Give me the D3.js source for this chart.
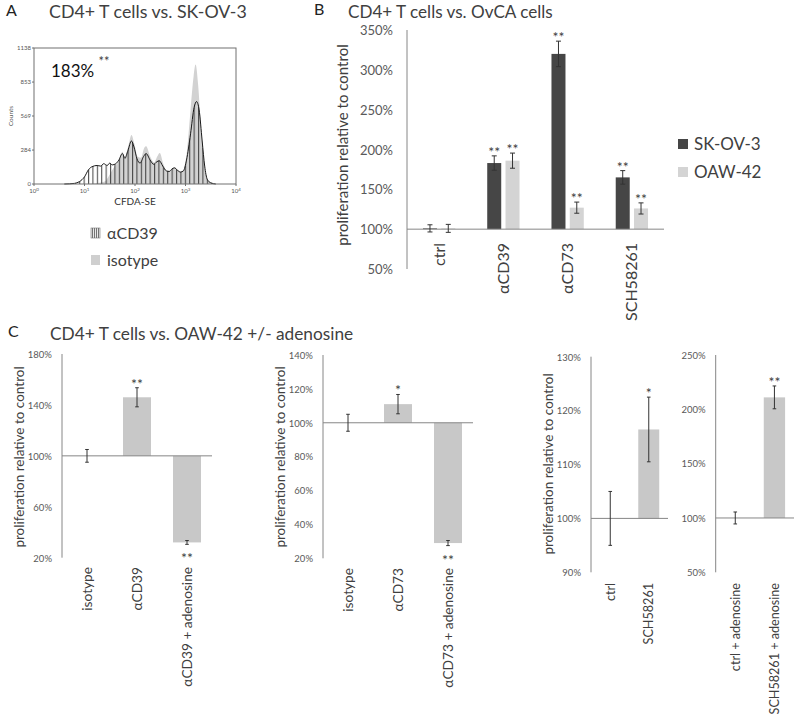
<!DOCTYPE html>
<html>
<head>
<meta charset="utf-8">
<script src="https://cdn.jsdelivr.net/npm/d3@7"></script>
<style>
  body { margin: 0; background: #fff; }
  svg { display: block; font-family: Lato, "Open Sans", sans-serif; }
</style>
</head>
<body>
<div id="figure"></div>
<script>
// Panel A: CFSE histogram (log10 of CFDA-SE intensity vs counts)
//
var cd39Log    = [0.6, 0.8, 0.9, 1.0, 1.08, 1.15, 1.25, 1.32, 1.38, 1.45, 1.5, 1.55, 1.62, 1.68, 1.75, 1.8, 1.86, 1.93, 1.98, 2.04, 2.1, 2.17, 2.22, 2.3, 2.37, 2.43, 2.48, 2.55, 2.62, 2.68, 2.73, 2.78, 2.84, 2.9, 2.96, 3.02, 3.1, 3.17, 3.22, 3.27, 3.33, 3.38, 3.43, 3.5, 3.6];
var cd39Counts = [0, 5, 20, 60, 120, 145, 155, 150, 170, 155, 175, 160, 170, 200, 255, 215, 280, 360, 310, 210, 175, 230, 255, 200, 165, 185, 195, 150, 110, 105, 125, 135, 115, 100, 110, 200, 420, 640, 690, 620, 360, 150, 40, 10, 0];
var isoLog     = [0.9, 1.2, 1.4, 1.5, 1.6, 1.68, 1.75, 1.8, 1.87, 1.93, 1.99, 2.05, 2.12, 2.18, 2.22, 2.3, 2.38, 2.44, 2.49, 2.56, 2.63, 2.69, 2.74, 2.79, 2.85, 2.91, 2.97, 3.03, 3.1, 3.16, 3.2, 3.25, 3.31, 3.37, 3.43, 3.5, 3.6];
var isoCounts  = [0, 5, 20, 80, 150, 190, 270, 230, 320, 410, 330, 230, 220, 300, 315, 230, 180, 230, 260, 170, 110, 110, 130, 140, 115, 100, 130, 280, 620, 900, 1000, 830, 450, 180, 50, 10, 0];
var histYTicks = [0, 284, 569, 853, 1138];
var histXTicks = [1, 10, 100, 1000, 10000];
var histLegend = ["αCD39", "isotype"];

// Panel B: grouped bars
//
var bCategories = ["ctrl", "αCD39", "αCD73", "SCH58261"];
var bSeries     = ["SK-OV-3", "OAW-42"];
var bSkov3      = [101, 183, 320, 165];
var bSkov3Err   = [4.5, 9, 16, 8.5];
var bSkov3Sig   = ["", "**", "**", "**"];
var bOaw42      = [101, 186, 127, 126];
var bOaw42Err   = [5, 9.5, 7, 7];
var bOaw42Sig   = ["", "**", "**", "**"];
var bTicks      = [50, 100, 150, 200, 250, 300, 350];

// Panel C: four small bar charts
//
var c1Categories = ["isotype", "αCD39", "αCD39 + adenosine"];
var c1Values     = [100, 146, 32];
var c1Err        = [5, 7.5, 1.5];
var c1Sig        = ["", "**", "**"];
var c1Ticks      = [20, 60, 100, 140, 180];

var c2Categories = ["isotype", "αCD73", "αCD73 + adenosine"];
var c2Values     = [100, 111, 29];
var c2Err        = [5, 5.7, 1.5];
var c2Sig        = ["", "*", "**"];
var c2Ticks      = [20, 40, 60, 80, 100, 120, 140];

var c3Categories = ["ctrl", "SCH58261"];
var c3Values     = [100, 116.5];
var c3Err        = [5, 6];
var c3Sig        = ["", "*"];
var c3Ticks      = [90, 100, 110, 120, 130];

var c4Categories = ["ctrl + adenosine", "SCH58261 + adenosine"];
var c4Values     = [100, 211];
var c4Err        = [5.5, 10.5];
var c4Sig        = ["", "**"];
var c4Ticks      = [50, 100, 150, 200, 250];

// Colours
//
var textDark  = '#404040';
var textTick  = '#595959';
var axisColor = '#868686';
var darkBar   = '#464646';
var lightBar  = '#d4d4d4';
var cBar      = '#c8c8c8';
var errColor  = '#333333';

var svg = d3.select("#figure").append("svg")
    .attr('width', 800)
    .attr('height', 719)
    .attr('viewBox', '0 0 800 719');

var defs = svg.append("defs");

// Panel letters and titles
//
function panelTitle(letter, lx, ly, title, tx, ty, size) {
    svg.append("text")
        .attr('x', lx).attr('y', ly)
        .style("font-size", "16px")
        .style("fill", '#222')
        .text(letter);
    svg.append("text")
        .attr('x', tx).attr('y', ty)
        .style("font-size", size + "px")
        .style("fill", textDark)
        .text(title);
}

panelTitle("A", 6, 16, "CD4+ T cells vs. SK-OV-3", 49, 18, 17.8);
panelTitle("B", 314, 15, "CD4+ T cells vs. OvCA cells", 348, 18, 17.1);
panelTitle("C", 8, 337, "CD4+ T cells vs. OAW-42 +/- adenosine", 50, 340, 17.3);

// Significance stars
//
function stars(g, x, y, s, size) {
    if(!s) { return; }
    g.append("text")
        .attr('x', x).attr('y', y)
        .style("text-anchor", "middle")
        .style("font-size", size + "px")
        .style("fill", textDark)
        .text(s);
}

// Error bar with caps
//
function errorBar(g, x, yHi, yLo, cap) {
    g.append("line").attr('x1', x).attr('x2', x).attr('y1', yHi).attr('y2', yLo)
        .attr('stroke', errColor).attr('stroke-width', 1);
    g.append("line").attr('x1', x - cap).attr('x2', x + cap).attr('y1', yHi).attr('y2', yHi)
        .attr('stroke', errColor).attr('stroke-width', 1);
    g.append("line").attr('x1', x - cap).attr('x2', x + cap).attr('y1', yLo).attr('y2', yLo)
        .attr('stroke', errColor).attr('stroke-width', 1);
}

// ---------------------------------------------------------------------------
// Panel A
//
function plotHistogram() {
    let x0 = 34, x1 = 236, y0 = 48, y1 = 184;
    let g = svg.append("g").attr("class", "histogram");

    let x = d3.scaleLog().domain([1, 10000]).range([x0, x1]);
    let y = d3.scaleLinear().domain([0, 1138]).range([y1, y0]);

    // hatch pattern for aCD39
    //
    let pat = defs.append("pattern")
        .attr('id', 'hatch')
        .attr('patternUnits', 'userSpaceOnUse')
        .attr('width', 4.4)
        .attr('height', 10);
    pat.append("line")
        .attr('x1', 0.6).attr('x2', 0.6).attr('y1', 0).attr('y2', 10)
        .attr('stroke', '#2a2a2a').attr('stroke-width', 0.9);

    let iso = isoLog.map((d, i) => ({ v: Math.pow(10, d), c: isoCounts[i] }));
    let cd  = cd39Log.map((d, i) => ({ v: Math.pow(10, d), c: cd39Counts[i] }));

    let area = d3.area()
        .x(d => x(d.v))
        .y0(y(0))
        .y1(d => y(d.c))
        .curve(d3.curveMonotoneX);
    let line = d3.line()
        .x(d => x(d.v))
        .y(d => y(d.c))
        .curve(d3.curveMonotoneX);

    g.append("path").datum(iso).attr('d', area).attr('fill', '#d2d2d2');
    g.append("path").datum(cd).attr('d', area).attr('fill', 'url(#hatch)');
    g.append("path").datum(cd).attr('d', line)
        .attr('fill', 'none').attr('stroke', '#1a1a1a').attr('stroke-width', 1);

    // frame
    //
    g.append("rect")
        .attr('x', x0).attr('y', y0)
        .attr('width', x1 - x0).attr('height', y1 - y0)
        .attr('fill', 'none').attr('stroke', '#707070').attr('stroke-width', 1);

    // y ticks
    //
    histYTicks.forEach(t => {
        g.append("line").attr('x1', x0 - 2).attr('x2', x0).attr('y1', y(t)).attr('y2', y(t))
            .attr('stroke', '#707070');
        g.append("text")
            .attr('x', x0 - 3).attr('y', y(t) + 2)
            .style("text-anchor", "end")
            .style("font-size", "6px")
            .style("fill", '#555')
            .text(t);
    });

    // x ticks (decades)
    //
    histXTicks.forEach(t => {
        let e = Math.round(Math.log10(t));
        g.append("line").attr('x1', x(t)).attr('x2', x(t)).attr('y1', y1).attr('y2', y1 + 2)
            .attr('stroke', '#707070');
        let tx = g.append("text")
            .attr('x', x(t)).attr('y', y1 + 9)
            .style("text-anchor", "middle")
            .style("font-size", "6px")
            .style("fill", '#555');
        tx.append("tspan").text("10");
        tx.append("tspan").attr('dy', -2).style("font-size", "4.5px").text(e);
    });

    g.append("text")
        .attr('transform', `translate(13,${(y0 + y1) / 2}) rotate(-90)`)
        .style("text-anchor", "middle")
        .style("font-size", "6.5px")
        .style("fill", '#555')
        .text("Counts");

    g.append("text")
        .attr('x', (x0 + x1) / 2).attr('y', 205)
        .style("text-anchor", "middle")
        .style("font-size", "10px")
        .style("fill", '#333')
        .text("CFDA-SE");

    g.append("text")
        .attr('x', 51).attr('y', 77)
        .style("font-size", "17px")
        .style("fill", '#111')
        .text("183%");
    stars(g, 104, 66, "**", 13);

    // legend
    //
    let fills = ['url(#hatch2)', '#cfcfcf'];
    let pat2 = defs.append("pattern")
        .attr('id', 'hatch2')
        .attr('patternUnits', 'userSpaceOnUse')
        .attr('width', 2).attr('height', 10);
    pat2.append("rect").attr('width', 2).attr('height', 10).attr('fill', '#e8e8e8');
    pat2.append("line")
        .attr('x1', 0.5).attr('x2', 0.5).attr('y1', 0).attr('y2', 10)
        .attr('stroke', '#555').attr('stroke-width', 0.8);

    histLegend.forEach((name, i) => {
        let ly = 228 + i * 27;
        g.append("rect")
            .attr('x', 91).attr('y', ly)
            .attr('width', 9).attr('height', 10)
            .attr('fill', fills[i])
            .attr('stroke', i === 0 ? '#777' : 'none')
            .attr('stroke-width', 0.6);
        g.append("text")
            .attr('x', 107).attr('y', ly + 11)
            .style("font-size", "16px")
            .style("fill", textDark)
            .text(name);
    });
}

// ---------------------------------------------------------------------------
// Panel B
//
function plotGrouped() {
    let x0 = 407, x1 = 664;
    let g = svg.append("g").attr("class", "grouped");

    let y = d3.scaleLinear().domain([50, 350]).range([269, 30]);
    let x = d3.scaleBand().domain(bCategories).range([x0, x1]).padding(0);
    let xs = d3.scaleBand().domain(bSeries).range([0, x.bandwidth()])
        .paddingInner(0.235).paddingOuter(0.873);

    let series = [
        { name: bSeries[0], vals: bSkov3, err: bSkov3Err, sig: bSkov3Sig, color: darkBar },
        { name: bSeries[1], vals: bOaw42, err: bOaw42Err, sig: bOaw42Sig, color: lightBar }
    ];

    // y tick labels
    //
    let yAxis = d3.axisLeft(y).tickValues(bTicks).tickSize(0).tickPadding(0)
        .tickFormat(d => d + "%");
    let ax = g.append("g").attr('transform', `translate(393,0)`).call(yAxis);
    ax.select(".domain").remove();
    ax.selectAll("text")
        .attr('dy', '0.35em')
        .style("font-family", "Lato, sans-serif")
        .style("font-size", "13px")
        .style("fill", textTick);

    g.append("text")
        .attr('transform', `translate(343,145) rotate(-90)`)
        .attr('dy', '0.35em')
        .style("text-anchor", "middle")
        .style("font-size", "15px")
        .style("fill", textDark)
        .text("proliferation relative to control");

    // bars
    //
    series.forEach(s => {
        bCategories.forEach((c, i) => {
            let bx = x(c) + xs(s.name);
            let v  = s.vals[i];
            g.append("rect")
                .attr('x', bx)
                .attr('y', y(Math.max(v, 100)))
                .attr('width', xs.bandwidth())
                .attr('height', Math.abs(y(v) - y(100)))
                .attr('fill', s.color);
        });
    });

    // axis lines
    //
    g.append("line").attr('x1', x0).attr('x2', x0).attr('y1', y(350)).attr('y2', y(50))
        .attr('stroke', axisColor).attr('stroke-width', 1);
    g.append("line").attr('x1', x0).attr('x2', x1).attr('y1', y(100)).attr('y2', y(100))
        .attr('stroke', axisColor).attr('stroke-width', 1);

    // error bars and stars
    //
    series.forEach(s => {
        bCategories.forEach((c, i) => {
            let cx = x(c) + xs(s.name) + xs.bandwidth() / 2;
            let v  = s.vals[i];
            let e  = s.err[i];
            errorBar(g, cx, y(v + e), y(v - e), 2.5);
            stars(g, cx, y(v + e) + 1, s.sig[i], 14);
        });
    });

    // category labels
    //
    bCategories.forEach(c => {
        g.append("text")
            .attr('transform', `translate(${x(c) + x.bandwidth() / 2},243) rotate(-90)`)
            .attr('dy', '0.35em')
            .style("text-anchor", "end")
            .style("font-size", "16px")
            .style("fill", textDark)
            .text(c);
    });

    // legend
    //
    series.forEach((s, i) => {
        let ly = 139 + i * 28;
        g.append("rect")
            .attr('x', 678).attr('y', ly)
            .attr('width', 10).attr('height', 10)
            .attr('fill', s.color);
        g.append("text")
            .attr('x', 694).attr('y', ly + 11)
            .style("font-size", "17px")
            .style("fill", textDark)
            .text(s.name);
    });
}

// ---------------------------------------------------------------------------
// Panel C: single bar chart with bars starting at 100%
//
function plotSmallBars(opt) {
    let g = svg.append("g").attr("class", "smallBars");
    let cats = opt.categories;
    let ticks = opt.ticks;
    let yMin = d3.min(ticks), yMax = d3.max(ticks);

    let y = d3.scaleLinear().domain([yMin, yMax]).range([opt.yBottom, opt.yTop]);
    let x = d3.scaleBand().domain(cats).range([opt.x0, opt.x1])
        .paddingInner(opt.pad).paddingOuter(opt.pad / 2);

    let yAxis = d3.axisLeft(y).tickValues(ticks).tickSize(0).tickPadding(0)
        .tickFormat(d => d + "%");
    let ax = g.append("g").attr('transform', `translate(${opt.x0 - 10},0)`).call(yAxis);
    ax.select(".domain").remove();
    ax.selectAll("text")
        .attr('dy', '0.35em')
        .style("font-family", "Lato, sans-serif")
        .style("font-size", "9.5px")
        .style("fill", textTick);

    if(opt.yLabelX) {
        g.append("text")
            .attr('transform', `translate(${opt.yLabelX},${opt.yLabelY}) rotate(-90)`)
            .attr('dy', '0.35em')
            .style("text-anchor", "middle")
            .style("font-size", "13.5px")
            .style("fill", textDark)
            .text("proliferation relative to control");
    }

    cats.forEach((c, i) => {
        let v = opt.values[i];
        if(v === 100) { return; }
        g.append("rect")
            .attr('x', x(c))
            .attr('y', y(Math.max(v, 100)))
            .attr('width', x.bandwidth())
            .attr('height', Math.abs(y(v) - y(100)))
            .attr('fill', cBar);
    });

    g.append("line").attr('x1', opt.x0).attr('x2', opt.x0).attr('y1', y(yMax)).attr('y2', y(yMin))
        .attr('stroke', axisColor).attr('stroke-width', 1);
    g.append("line").attr('x1', opt.x0).attr('x2', opt.x1).attr('y1', y(100)).attr('y2', y(100))
        .attr('stroke', axisColor).attr('stroke-width', 1);

    cats.forEach((c, i) => {
        let cx = x(c) + x.bandwidth() / 2;
        let v  = opt.values[i];
        let e  = opt.err[i];
        errorBar(g, cx, y(v + e), y(v - e), 1.8);
        if(v >= 100) {
            stars(g, cx, y(v + e) + 1, opt.sig[i], 14);
        } else {
            stars(g, cx, y(v - e) + 19, opt.sig[i], 14);
        }
        g.append("text")
            .attr('transform', `translate(${cx},${opt.labelTop}) rotate(-90)`)
            .attr('dy', '0.35em')
            .style("text-anchor", "end")
            .style("font-size", opt.labelSize + "px")
            .style("fill", textDark)
            .text(c);
    });
}

plotHistogram();
plotGrouped();

plotSmallBars({
    categories: c1Categories, values: c1Values, err: c1Err, sig: c1Sig, ticks: c1Ticks,
    x0: 62, x1: 212, yTop: 354, yBottom: 557.7, pad: 0.44,
    yLabelX: 19, yLabelY: 457, labelTop: 567, labelSize: 13.7
});
plotSmallBars({
    categories: c2Categories, values: c2Values, err: c2Err, sig: c2Sig, ticks: c2Ticks,
    x0: 323, x1: 473, yTop: 355, yBottom: 558.3, pad: 0.44,
    yLabelX: 280, yLabelY: 457, labelTop: 568, labelSize: 13.7
});
plotSmallBars({
    categories: c3Categories, values: c3Values, err: c3Err, sig: c3Sig, ticks: c3Ticks,
    x0: 591, x1: 668, yTop: 356.7, yBottom: 572.3, pad: 0.455,
    yLabelX: 548, yLabelY: 464, labelTop: 583, labelSize: 12.6
});
plotSmallBars({
    categories: c4Categories, values: c4Values, err: c4Err, sig: c4Sig, ticks: c4Ticks,
    x0: 715.7, x1: 794, yTop: 355, yBottom: 572.3, pad: 0.455,
    yLabelX: null, yLabelY: null, labelTop: 583, labelSize: 12.6
});
</script>
</body>
</html>
